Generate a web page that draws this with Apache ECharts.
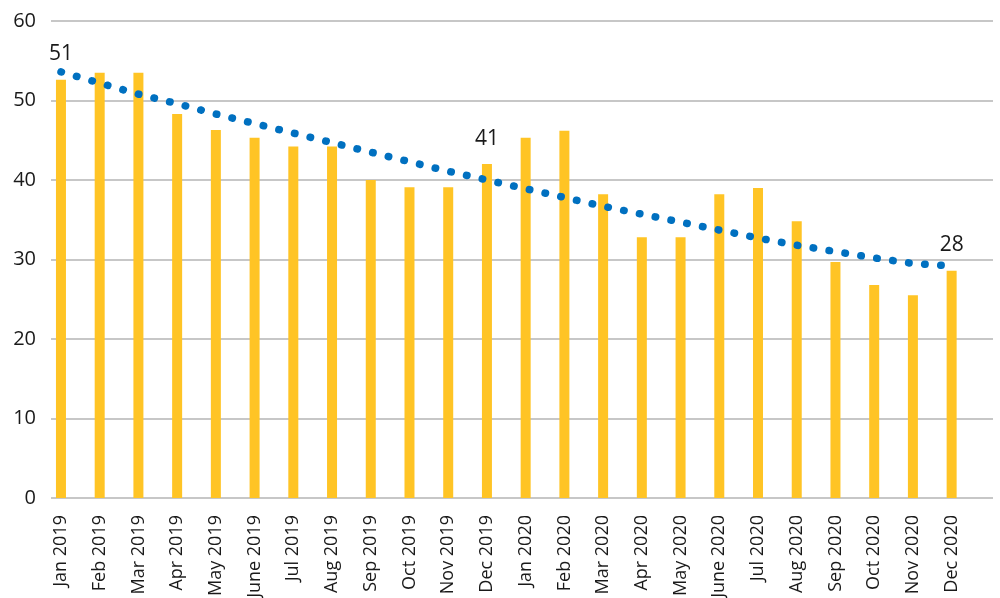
<!DOCTYPE html>
<html>
<head>
<meta charset="utf-8">
<script src="https://cdn.jsdelivr.net/npm/echarts@6/dist/echarts.min.js"></script>
<style>
  html, body { margin: 0; padding: 0; background: #fff; }
  #chart { width: 1000px; height: 598px; }
</style>
</head>
<body>
<div id="chart"></div>
<script>
const months = ['Jan 2019', 'Feb 2019', 'Mar 2019', 'Apr 2019', 'May 2019', 'June 2019',
  'Jul 2019', 'Aug 2019', 'Sep 2019', 'Oct 2019', 'Nov 2019', 'Dec 2019',
  'Jan 2020', 'Feb 2020', 'Mar 2020', 'Apr 2020', 'May 2020', 'June 2020',
  'Jul 2020', 'Aug 2020', 'Sep 2020', 'Oct 2020', 'Nov 2020', 'Dec 2020'];
const barValues = [52.6, 53.5, 53.5, 48.3, 46.3, 45.3, 44.2, 44.2, 40.0, 39.1, 39.1, 42.0,
  45.3, 46.2, 38.2, 32.8, 32.8, 38.2, 39.0, 34.8, 29.7, 26.8, 25.5, 28.6];
const trendValues = [53.6, 52.2, 50.8, 49.6, 48.3, 47.1, 45.9, 44.7, 43.5, 42.3, 41.1, 40.0,
  38.9, 37.8, 36.7, 35.7, 34.7, 33.7, 32.7, 31.8, 31.0, 30.2, 29.5, 29.2];
const yTicks = { min: 0, max: 60, interval: 10 };
// callouts shown above a few bars
const callouts = { 0: '51', 11: '41', 23: '28' };

const chart = echarts.init(document.getElementById('chart'));
const font = '"Open Sans", "Noto Sans", sans-serif';

const barData = barValues.map((v, i) => {
  if (callouts[i] === undefined) return v;
  return {
    value: v,
    label: {
      show: true,
      position: 'top',
      distance: 15,
      formatter: callouts[i],
      color: '#1a1a1a',
      fontSize: 21,
      fontFamily: font
    }
  };
});

chart.setOption({
  animation: false,
  backgroundColor: '#fff',
  grid: [
    { left: 51, right: 7, top: 21, bottom: 100, outerBoundsMode: 'none', containLabel: false },
    { left: 41.6, right: 29, top: 21, bottom: 100, outerBoundsMode: 'none', containLabel: false }
  ],
  xAxis: [
    { gridIndex: 0, type: 'value', min: 0, max: 1, show: false },
    {
      gridIndex: 1,
      type: 'category',
      data: months,
      axisLine: { show: false },
      axisTick: { show: false },
      axisLabel: {
        rotate: 90,
        margin: 17,
        color: '#1a1a1a',
        fontSize: 18,
        fontFamily: font,
        interval: 0
      }
    }
  ],
  yAxis: [
    {
      gridIndex: 0,
      type: 'value',
      min: yTicks.min,
      max: yTicks.max,
      interval: yTicks.interval,
      axisLine: { show: false },
      axisTick: { show: false },
      axisLabel: { color: '#1a1a1a', fontSize: 20, fontFamily: font, margin: 15 },
      splitLine: { lineStyle: { color: '#B5B5B5', width: 1.5 } }
    },
    {
      gridIndex: 1,
      type: 'value',
      min: yTicks.min,
      max: yTicks.max,
      interval: yTicks.interval,
      show: false,
      splitLine: { show: false }
    }
  ],
  series: [
    {
      type: 'bar',
      xAxisIndex: 1,
      yAxisIndex: 1,
      data: barData,
      barWidth: 10,
      itemStyle: { color: '#FFC425' }
    },
    {
      type: 'line',
      xAxisIndex: 1,
      yAxisIndex: 1,
      data: trendValues,
      symbol: 'none',
      lineStyle: { color: '#0070C0', width: 7.5, type: [0.5, 15.6], cap: 'round' },
      z: 3
    }
  ]
});
</script>
</body>
</html>
